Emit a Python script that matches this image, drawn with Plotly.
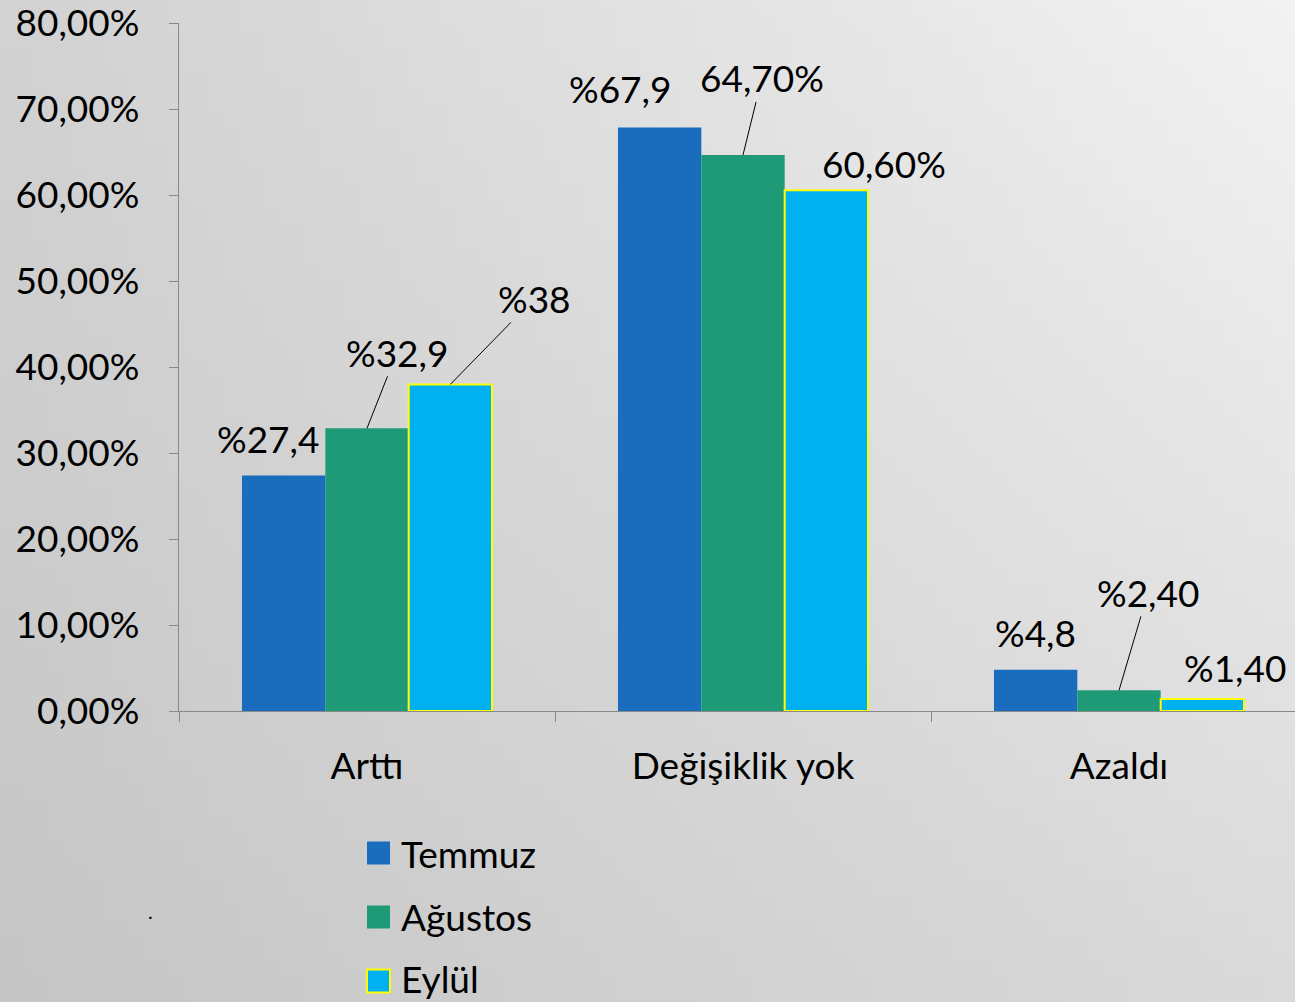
import base64
import struct
import zlib
import plotly.graph_objects as go

categories = ["Arttı", "Değişiklik yok", "Azaldı"]
series_names = ["Temmuz", "Ağustos", "Eylül"]
temmuz = [27.4, 67.9, 4.8]
agustos = [32.9, 64.7, 2.4]
eylul = [38.0, 60.6, 1.4]
label_temmuz = ["%27,4", "%67,9", "%4,8"]
label_agustos = ["%32,9", "64,70%", "%2,40"]
label_eylul = ["%38", "60,60%", "%1,40"]
ytick_vals = [0, 10, 20, 30, 40, 50, 60, 70, 80]
ytick_text = ["0,00%", "10,00%", "20,00%", "30,00%", "40,00%", "50,00%", "60,00%", "70,00%", "80,00%"]

colors = ["#1a6dbd", "#1f9a77", "#00b0f0"]
FONT = "Lato"
FS = 37

W, H = 1295, 1002
L, T, B = 179, 23, 291
PW = W - L
PH = H - T - B


def gradient_png(w=66, h=52):
    rows = b""
    for j in range(h):
        yn = j / (h - 1)
        row = b"\x00"
        for i in range(w):
            xn = i / (w - 1)
            v = 198 + 20 * xn + 12 * (1 - yn) + 12 * xn * (1 - yn)
            v = int(round(v))
            row += bytes([v, v, v])
        rows += row
    def chunk(tag, data):
        c = struct.pack(">I", len(data)) + tag + data
        return c + struct.pack(">I", zlib.crc32(tag + data) & 0xFFFFFFFF)
    png = b"\x89PNG\r\n\x1a\n"
    png += chunk(b"IHDR", struct.pack(">IIBBBBB", w, h, 8, 2, 0, 0, 0))
    png += chunk(b"IDAT", zlib.compress(rows, 9))
    png += chunk(b"IEND", b"")
    return "data:image/png;base64," + base64.b64encode(png).decode()


fig = go.Figure()
fig.add_trace(go.Bar(x=categories, y=temmuz, name=series_names[0],
                     marker=dict(color=colors[0], line=dict(width=0))))
fig.add_trace(go.Bar(x=categories, y=agustos, name=series_names[1],
                     marker=dict(color=colors[1], line=dict(width=0))))
fig.add_trace(go.Bar(x=categories, y=eylul, name=series_names[2],
                     marker=dict(color=colors[2], line=dict(width=2, color="#ffff00"))))

bargap = 0.335
bw = (1 - bargap) / 3

annotations = []
plain = [
    (temmuz, label_temmuz, -1, [-16, -40, 0], [37, 39, 37]),
    (eylul, label_eylul, 1, [None, 58, 33], [None, 27, 31]),
]
for vals, labs, off, xs, ys in plain:
    for i, (v, t) in enumerate(zip(vals, labs)):
        if xs[i] is None:
            continue
        annotations.append(dict(x=i + off * bw, y=v, xref="x", yref="y", text=t,
                                showarrow=False, xshift=xs[i], yshift=ys[i],
                                font=dict(family=FONT, size=FS, color="black")))
arrowed = [
    (0 + 0 * bw, agustos[0], label_agustos[0], 30, -76),
    (1 + 0 * bw, agustos[1], label_agustos[1], 19, -77),
    (2 + 0 * bw, agustos[2], label_agustos[2], 29, -98),
    (0 + 1 * bw, eylul[0], label_eylul[0], 84, -86),
]
for x, v, t, ax, ay in arrowed:
    annotations.append(dict(x=x, y=v, xref="x", yref="y", text=t, showarrow=True,
                            arrowhead=0, arrowwidth=1, arrowcolor="black",
                            ax=ax, ay=ay, axref="pixel", ayref="pixel", standoff=0,
                            font=dict(family=FONT, size=FS, color="black")))

shapes = []
leg_x0 = (367 - L) / PW
leg_x1 = (390 - L) / PW
for k, (name, col) in enumerate(zip(series_names, colors)):
    cy = 853 + 64 * k
    y0 = (H - B - (cy + 11.5)) / PH
    y1 = (H - B - (cy - 11.5)) / PH
    shapes.append(dict(type="rect", xref="paper", yref="paper", x0=leg_x0, x1=leg_x1,
                       y0=y0, y1=y1, fillcolor=col,
                       line=dict(width=2 if k == 2 else 0, color="#ffff00")))
    ty = cy if k < 2 else cy - 3
    annotations.append(dict(xref="paper", yref="paper", x=(399 - L) / PW,
                            y=(H - B - ty) / PH, text=name, showarrow=False,
                            xanchor="left", yanchor="middle",
                            font=dict(family=FONT, size=FS, color="black")))

annotations.append(dict(xref="paper", yref="paper", x=(146 - L) / PW,
                        y=(H - B - 925) / PH, text=".", showarrow=False,
                        font=dict(family=FONT, size=20, color="black")))

fig.update_layout(
    width=W, height=H,
    margin=dict(l=L, r=0, t=T, b=B, pad=0),
    barmode="group", bargap=bargap, bargroupgap=0,
    showlegend=False,
    paper_bgcolor="#dcdcdc",
    plot_bgcolor="rgba(0,0,0,0)",
    font=dict(family=FONT, size=FS, color="black"),
    xaxis=dict(range=[-0.5, 2.5 - 12 / 376], showgrid=False, showline=True,
               linecolor="#898989", linewidth=1.3, ticks="outside", tickson="boundaries",
               ticklen=10, tickcolor="#898989", tickfont=dict(family=FONT, size=FS),
               ticklabelstandoff=22, ticklabeloverflow="allow"),
    yaxis=dict(range=[0, 80.05], tickmode="array", tickvals=ytick_vals, ticktext=ytick_text,
               showgrid=False, showline=True, linecolor="#898989", linewidth=1.3,
               ticks="outside", ticklen=9, tickcolor="#898989", zeroline=False,
               tickfont=dict(family=FONT, size=FS), ticklabelstandoff=22,
               ticklabeloverflow="allow"),
    images=[dict(source=gradient_png(), xref="paper", yref="paper",
                 x=-L / PW, y=(H - B) / PH, sizex=W / PW, sizey=H / PH,
                 xanchor="left", yanchor="top", sizing="stretch", layer="below")],
    annotations=annotations,
    shapes=shapes,
)

fig.write_html("out.html", config={"displayModeBar": False},
               post_script="document.body.style.margin='0px';document.body.style.overflow='hidden';")
